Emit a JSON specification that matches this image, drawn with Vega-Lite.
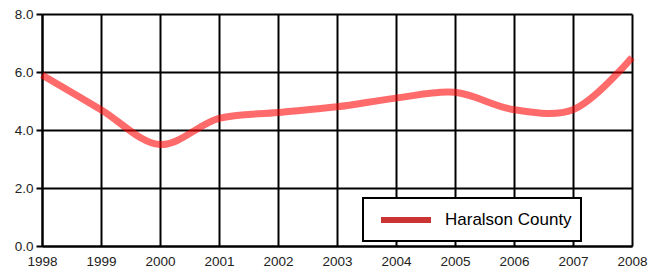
{
  "$schema": "https://vega.github.io/schema/vega-lite/v6.json",
  "width": 590,
  "height": 232,
  "autosize": {"type": "none"},
  "padding": {"left": 42, "top": 14, "right": 23, "bottom": 23},
  "background": "white",
  "title": {
    "text": "Unemployment Rate Trends",
    "anchor": "start",
    "frame": "group",
    "font": "Liberation Sans",
    "fontSize": 22,
    "fontWeight": "bold",
    "color": "black",
    "baseline": "alphabetic",
    "offset": 0,
    "dy": 10,
    "dx": -7
  },
  "data": {
    "values": [
      {"year": 1998, "rate": 5.9, "series": "Haralson County"},
      {"year": 1999, "rate": 4.7, "series": "Haralson County"},
      {"year": 2000, "rate": 3.5, "series": "Haralson County"},
      {"year": 2001, "rate": 4.4, "series": "Haralson County"},
      {"year": 2002, "rate": 4.6, "series": "Haralson County"},
      {"year": 2003, "rate": 4.8, "series": "Haralson County"},
      {"year": 2004, "rate": 5.1, "series": "Haralson County"},
      {"year": 2005, "rate": 5.3, "series": "Haralson County"},
      {"year": 2006, "rate": 4.7, "series": "Haralson County"},
      {"year": 2007, "rate": 4.7, "series": "Haralson County"},
      {"year": 2008, "rate": 6.5, "series": "Haralson County"}
    ]
  },
  "encoding": {
    "x": {
      "field": "year",
      "type": "quantitative",
      "scale": {"domain": [1998, 2008], "nice": false, "zero": false},
      "axis": {"values": [1998, 1999, 2000, 2001, 2002, 2003, 2004, 2005, 2006, 2007, 2008], "format": "d", "title": null, "labelPadding": 8, "ticks": false, "labelFlush": false}
    },
    "y": {
      "field": "rate",
      "type": "quantitative",
      "scale": {"domain": [0, 8], "nice": false},
      "axis": {"values": [0, 2, 4, 6, 8], "format": ".1f", "title": null, "labelPadding": 3, "tickSize": 6, "labelFlush": false}
    }
  },
  "layer": [
    {
      "mark": {"type": "line", "interpolate": "catmull-rom", "strokeWidth": 7, "opacity": 0.58, "strokeCap": "butt", "color": "#ff0000"}
    },
    {
      "mark": {"type": "line", "interpolate": "catmull-rom", "strokeWidth": 7, "opacity": 0},
      "encoding": {
        "color": {
          "field": "series",
          "type": "nominal",
          "scale": {"range": ["#cc3333"]},
          "legend": {
            "title": null,
            "orient": "none",
            "legendX": 321,
            "legendY": 184,
            "symbolType": "M-0.4,0H4.6",
            "symbolSize": 400,
            "symbolStrokeWidth": 6,
            "symbolOpacity": 1,
            "labelFont": "Liberation Sans",
            "labelFontSize": 17,
            "labelColor": "black",
            "labelOffset": 47,
            "labelLimit": 500,
            "padding": 9,
            "strokeColor": "black",
            "fillColor": "white"
          }
        }
      }
    }
  ],
  "config": {
    "view": {"stroke": null},
    "legend": {"strokeWidth": 2},
    "axis": {
      "grid": true,
      "gridColor": "black",
      "gridWidth": 2,
      "gridOpacity": 1,
      "domainColor": "black",
      "domainWidth": 2,
      "tickColor": "black",
      "tickWidth": 2,
      "labelFont": "Liberation Sans",
      "labelFontSize": 13.5,
      "labelColor": "#222222"
    }
  }
}
